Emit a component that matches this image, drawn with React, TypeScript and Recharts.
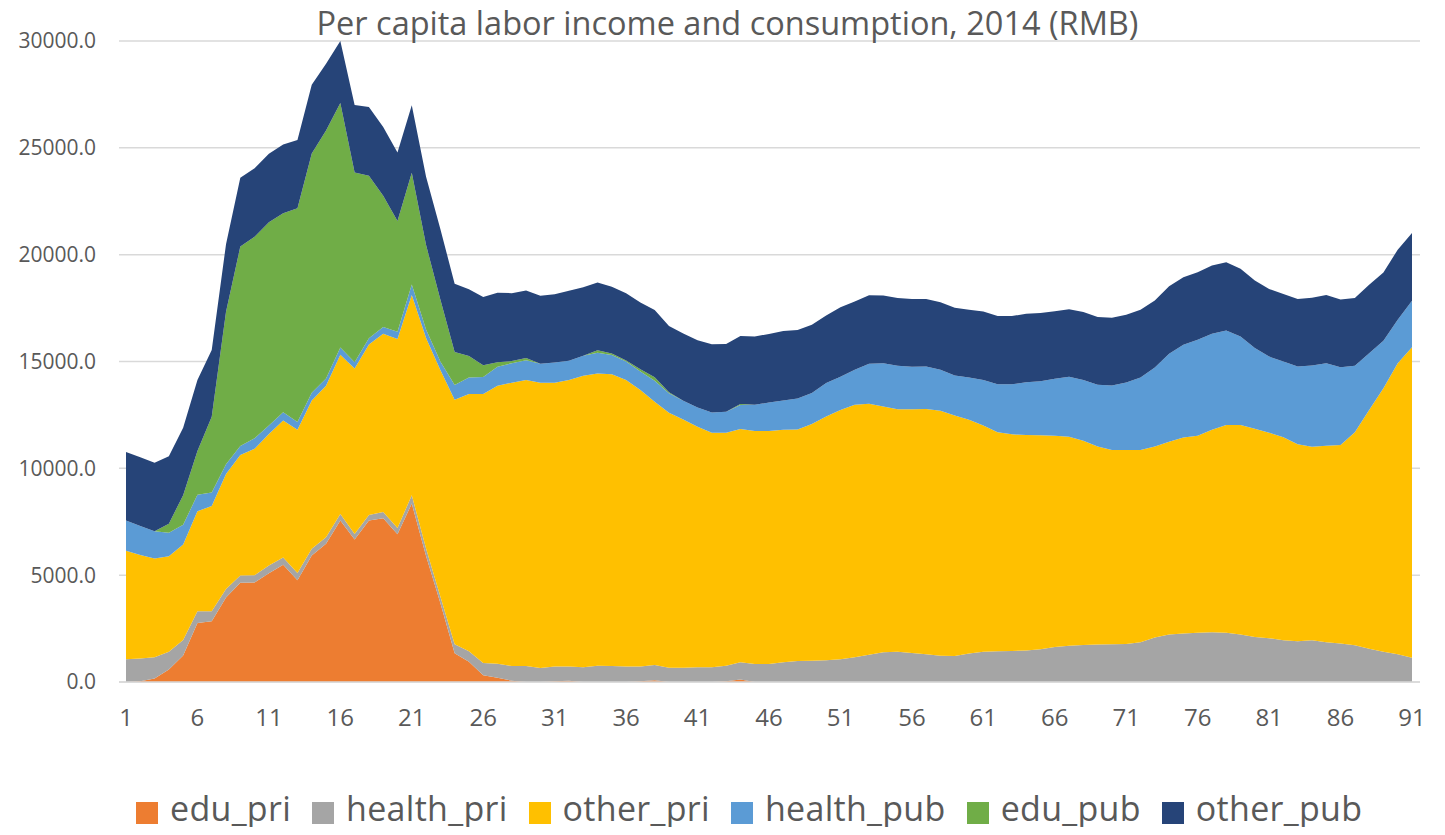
import React from 'react';
import { AreaChart, Area, XAxis, YAxis, CartesianGrid } from 'recharts';

// age 1..91
const ages = Array.from({ length: 91 }, (_, i) => i + 1);

const yTicks = [0, 5000, 10000, 15000, 20000, 25000, 30000];

const eduPri = [
  0, 40, 160, 590, 1240, 2760, 2840, 3950, 4640, 4660,
  5090, 5490, 4760, 5920, 6470, 7560, 6670, 7560, 7660, 6910,
  8350, 5900, 3700, 1340, 950, 320, 200, 60, 0, 0,
  30, 60, 0, 0, 0, 0, 30, 80, 0, 0,
  0, 0, 30, 120, 0, 0, 0, 0, 0, 0,
  0, 0, 0, 0, 0, 0, 0, 0, 0, 0,
  0, 0, 0, 0, 0, 0, 0, 0, 0, 0,
  0, 0, 0, 0, 0, 0, 0, 0, 0, 0,
  0, 0, 0, 0, 0, 0, 0, 0, 0, 0,
  0,
];

const healthPri = [
  1070, 1060, 1000, 830, 730, 550, 470, 400, 340, 340,
  360, 340, 340, 320, 300, 300, 260, 260, 300, 300,
  390, 350, 300, 430, 490, 570, 650, 690, 750, 650,
  690, 660, 690, 760, 750, 720, 690, 720, 670, 670,
  690, 690, 730, 800, 840, 840, 920, 980, 1000, 1020,
  1060, 1160, 1280, 1390, 1410, 1360, 1300, 1230, 1220, 1330,
  1410, 1440, 1450, 1480, 1530, 1640, 1700, 1730, 1750, 1770,
  1780, 1860, 2080, 2220, 2270, 2300, 2330, 2300, 2220, 2110,
  2050, 1950, 1910, 1950, 1860, 1800, 1720, 1560, 1410, 1300,
  1140,
];

const otherPri = [
  5070, 4840, 4620, 4460, 4460, 4680, 4930, 5390, 5640, 5920,
  6160, 6410, 6710, 6940, 7100, 7460, 7740, 7970, 8340, 8840,
  9370, 9850, 10600, 11440, 12040, 12590, 13020, 13260, 13380, 13360,
  13290, 13420, 13640, 13680, 13650, 13420, 12950, 12320, 11930, 11620,
  11260, 10980, 10910, 10920, 10910, 10910, 10880, 10840, 11080, 11410,
  11670, 11810, 11740, 11500, 11360, 11410, 11480, 11470, 11250, 10940,
  10590, 10250, 10140, 10080, 10020, 9890, 9780, 9560, 9270, 9090,
  9080, 9000, 8940, 9030, 9170, 9230, 9470, 9730, 9810, 9740,
  9620, 9500, 9220, 9060, 9200, 9290, 9970, 11170, 12340, 13620,
  14530,
];

const healthPub = [
  1420, 1360, 1280, 1100, 930, 770, 630, 450, 430, 490,
  400, 390, 360, 360, 340, 340, 300, 300, 320, 340,
  490, 400, 400, 690, 770, 790, 890, 910, 930, 890,
  940, 890, 940, 970, 900, 860, 860, 980, 910, 870,
  900, 940, 980, 1120, 1220, 1330, 1380, 1450, 1440, 1560,
  1560, 1640, 1880, 2030, 2030, 1980, 1990, 1910, 1880, 1980,
  2140, 2250, 2340, 2470, 2520, 2660, 2810, 2840, 2890, 3020,
  3160, 3390, 3700, 4110, 4340, 4490, 4500, 4420, 4140, 3780,
  3560, 3550, 3640, 3800, 3860, 3640, 3110, 2660, 2220, 2030,
  2170,
];

const eduPub = [
  0, 0, 0, 430, 1380, 2050, 3550, 7140, 9330, 9430,
  9510, 9310, 10000, 11190, 11600, 11440, 8880, 7600, 6140, 5190,
  5230, 3950, 2900, 1540, 1010, 550, 200, 100, 100, 0,
  0, 0, 0, 120, 80, 50, 110, 160, 50, 0,
  0, 0, 0, 50, 0, 0, 0, 0, 0, 0,
  0, 0, 0, 0, 0, 0, 0, 0, 0, 0,
  0, 0, 0, 0, 0, 0, 0, 0, 0, 0,
  0, 0, 0, 0, 0, 0, 0, 0, 0, 0,
  0, 0, 0, 0, 0, 0, 0, 0, 0, 0,
  0,
];

const otherPub = [
  3200, 3220, 3200, 3160, 3160, 3320, 3120, 3160, 3220, 3200,
  3200, 3220, 3200, 3220, 3120, 2900, 3160, 3220, 3220, 3200,
  3160, 3200, 3300, 3200, 3120, 3200, 3260, 3180, 3160, 3180,
  3200, 3280, 3210, 3170, 3120, 3150, 3120, 3150, 3100, 3150,
  3150, 3200, 3170, 3180, 3200, 3210, 3250, 3200, 3200, 3160,
  3250, 3200, 3200, 3170, 3170, 3170, 3160, 3160, 3170, 3170,
  3200, 3190, 3200, 3200, 3200, 3160, 3160, 3190, 3170, 3170,
  3170, 3170, 3140, 3160, 3160, 3160, 3190, 3190, 3170, 3160,
  3160, 3160, 3160, 3170, 3190, 3170, 3170, 3200, 3200, 3280,
  3170,
];

const series = [
  { key: 'edu_pri', color: '#ED7D31', values: eduPri },
  { key: 'health_pri', color: '#A5A5A5', values: healthPri },
  { key: 'other_pri', color: '#FFC000', values: otherPri },
  { key: 'health_pub', color: '#5B9BD5', values: healthPub },
  { key: 'edu_pub', color: '#70AD47', values: eduPub },
  { key: 'other_pub', color: '#264478', values: otherPub },
];

const data = ages.map((age, i) => {
  const row: Record<string, number> = { age };
  series.forEach((s) => {
    row[s.key] = s.values[i];
  });
  return row;
});

const textColor = '#595959';
const gridColor = '#D9D9D9';

export default function App() {
  return (
    <div
      style={{
        position: 'relative',
        width: 1445,
        height: 835,
        margin: -8,
        fontFamily: '"Open Sans", sans-serif',
        background: '#fff',
        overflow: 'hidden',
      }}
    >
      <AreaChart
        width={1445}
        height={835}
        data={data}
        margin={{ top: 41, right: 25, left: 0, bottom: 93 }}
      >
        <CartesianGrid vertical={false} stroke={gridColor} strokeWidth={1.5} />
        <XAxis
          dataKey="age"
          interval={4}
          height={60}
          padding={{ left: 7, right: 8 }}
          tickLine={false}
          axisLine={{ stroke: gridColor, strokeWidth: 1.5 }}
          tickMargin={21}
          tick={{ fill: textColor, fontSize: 24, fontFamily: 'Open Sans' }}
        />
        <YAxis
          width={119}
          domain={[0, 30000]}
          ticks={yTicks}
          tickFormatter={(v: number) => v.toFixed(1)}
          axisLine={false}
          tickLine={false}
          tickMargin={17}
          tick={{ fill: textColor, fontSize: 21, fontFamily: 'Open Sans' }}
        />
        {series.map((s) => (
          <Area
            key={s.key}
            dataKey={s.key}
            stackId="1"
            type="linear"
            stroke="none"
            fill={s.color}
            fillOpacity={1}
            dot={false}
            activeDot={false}
            isAnimationActive={false}
          />
        ))}
      </AreaChart>

      {/* title */}
      <div
        style={{
          position: 'absolute',
          top: 1,
          left: 300,
          width: 855,
          textAlign: 'center',
          fontSize: 32.5,
          lineHeight: '44px',
          color: textColor,
          whiteSpace: 'nowrap',
        }}
      >
        Per capita labor income and consumption, 2014 (RMB)
      </div>

      {/* legend */}
      <div
        style={{
          position: 'absolute',
          top: 791,
          left: 136,
          fontSize: 34,
          letterSpacing: 0.3,
          lineHeight: '34px',
          color: textColor,
          whiteSpace: 'nowrap',
        }}
      >
        {series.map((s) => (
          <span key={s.key} style={{ marginRight: 21 }}>
            <span
              style={{
                display: 'inline-block',
                width: 22,
                height: 22,
                background: s.color,
                marginRight: 12,
                verticalAlign: 'baseline',
                position: 'relative',
                top: 3,
              }}
            />
            {s.key}
          </span>
        ))}
      </div>
    </div>
  );
}
